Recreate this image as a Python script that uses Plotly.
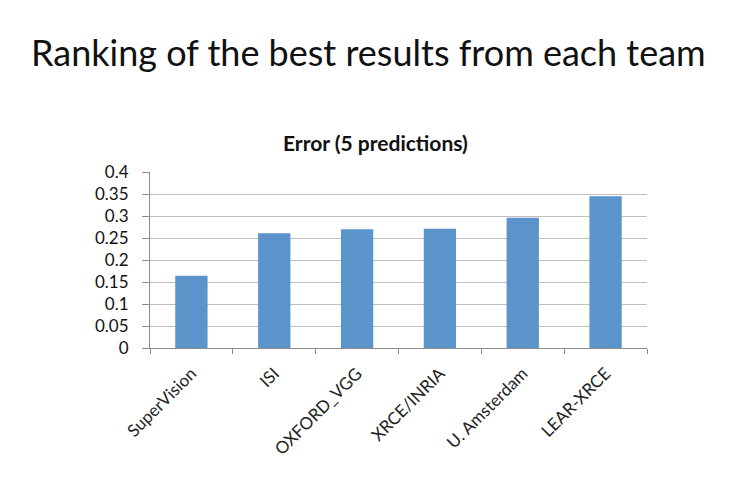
import plotly.graph_objects as go

teams = ["SuperVision", "ISI", "OXFORD_VGG", "XRCE/INRIA", "U. Amsterdam", "LEAR-XRCE"]
errors = [0.164, 0.261, 0.270, 0.271, 0.296, 0.345]
y_ticks = [0, 0.05, 0.1, 0.15, 0.2, 0.25, 0.3, 0.35, 0.4]
y_tick_labels = ["0", "0.05", "0.1", "0.15", "0.2", "0.25", "0.3", "0.35", "0.4"]

FONT = "Lato"

# page offset (browser body margin) compensation
W, H = 732, 486
L, R, T, B = 142, 93, 164, 146
plot_w = W - L - R
plot_h = H - T - B


def px_to_paper_x(px):
    return (px - 8 - L) / plot_w


def px_to_paper_y(py):
    return (H - B - (py - 8)) / plot_h


fig = go.Figure(go.Bar(
    x=teams, y=errors,
    marker=dict(color="#5B93CB", line=dict(width=0)),
))

fig.update_layout(
    width=W, height=H,
    margin=dict(l=L, r=R, t=T, b=B),
    paper_bgcolor="white", plot_bgcolor="white",
    bargap=0.61,
    showlegend=False,
    font=dict(family=FONT, color="#000000"),
    annotations=[
        dict(text="Ranking of the best results from each team",
             x=px_to_paper_x(368), y=px_to_paper_y(52),
             xref="paper", yref="paper", showarrow=False, xanchor="center", yanchor="middle",
             font=dict(family=FONT, size=36, color="#111111")),
        dict(text="<b>Error (5 predictions)</b>",
             x=px_to_paper_x(375), y=px_to_paper_y(142),
             xref="paper", yref="paper", showarrow=False, xanchor="center", yanchor="middle",
             font=dict(family=FONT, size=21, color="#111111")),
    ],
)

fig.update_xaxes(
    type="category",
    tickangle=-45,
    tickfont=dict(family=FONT, size=17, color="#222222"),
    showline=True, linecolor="#8C8C8C", linewidth=1,
    ticks="outside", tickson="boundaries", ticklen=5, tickcolor="#8C8C8C",
    showgrid=False,
    ticklabelstandoff=8,
)
fig.update_yaxes(
    range=[0, 0.4],
    tickvals=y_ticks, ticktext=y_tick_labels,
    tickfont=dict(family=FONT, size=17, color="#111111"),
    showline=True, linecolor="#8C8C8C", linewidth=1,
    ticks="outside", ticklen=7, tickcolor="#8C8C8C",
    showgrid=True, gridcolor="#BFBFBF", gridwidth=1,
    zeroline=False,
    ticklabelstandoff=10,
)

fig.write_html("out.html")
